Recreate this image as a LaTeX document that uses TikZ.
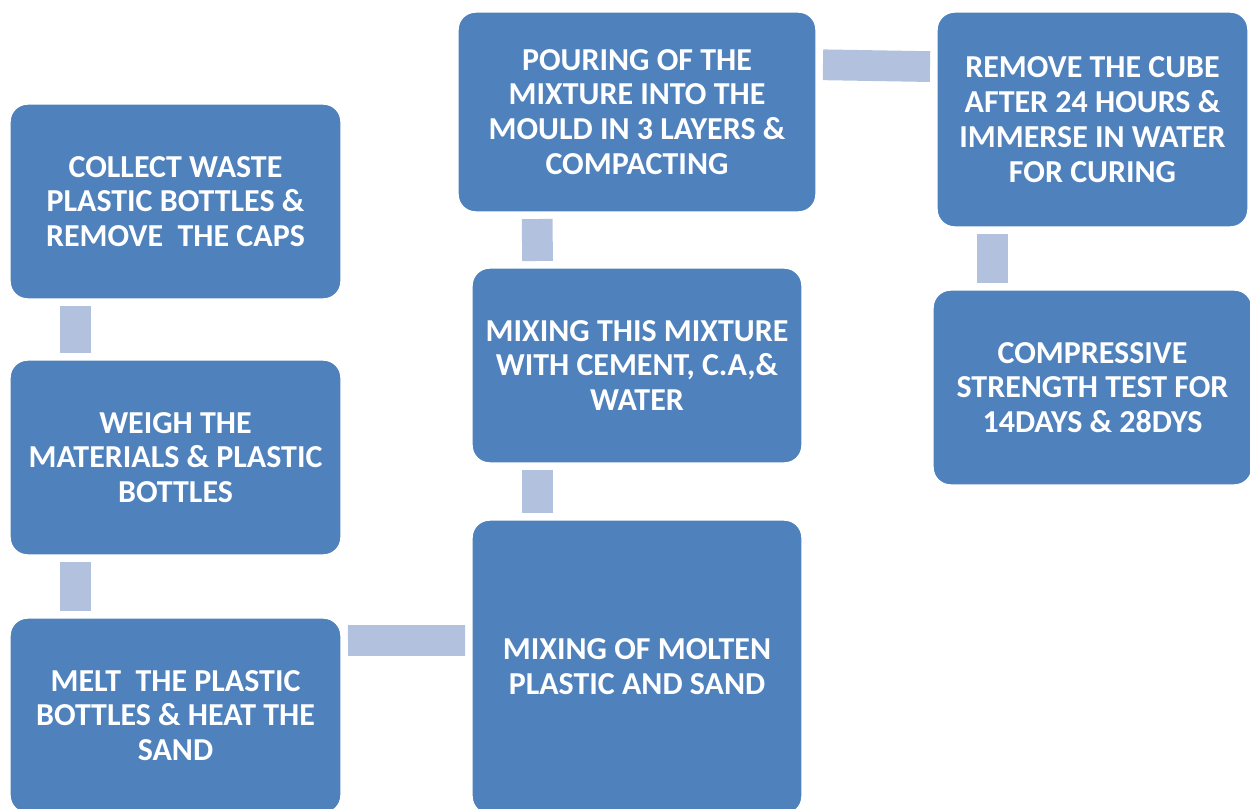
\documentclass[tikz,border=0pt]{standalone}
\usepackage{fontspec}
\setmainfont{Carlito}
\usetikzlibrary{calc}
\definecolor{boxblue}{HTML}{4F81BD}
\definecolor{linkblue}{HTML}{B2C1DE}
\tikzset{
  stepbox/.style={rectangle, rounded corners=10pt, fill=boxblue, draw=white, line width=0.8pt,
    text=white, font=\bfseries\fontsize{18.2}{19.8}\selectfont, align=center, inner sep=0pt},
  link/.style={draw=linkblue, line width=17.5pt, shorten <=3.6pt, shorten >=3.6pt}
}
\begin{document}
\begin{tikzpicture}[x=0.02cm,y=-0.02cm]
            \useasboundingbox (0,0) rectangle (1250,808);
            % left column
            \node[stepbox, minimum width=6.62cm, minimum height=3.9cm] (collect) at (175.5,201.5)
              {COLLECT WASTE\\PLASTIC BOTTLES \&\\REMOVE~ THE CAPS};
            \node[stepbox, minimum width=6.62cm, minimum height=3.9cm] (weigh) at (175.5,457.5)
              {WEIGH THE\\MATERIALS \& PLASTIC\\BOTTLES};
            \node[stepbox, minimum width=6.62cm, minimum height=3.9cm] (melt) at (175.5,715.5)
              {MELT~ THE PLASTIC\\BOTTLES \& HEAT THE\\SAND};
            % middle column
            \node[stepbox, minimum width=6.6cm, minimum height=5.88cm] (molten) at (637,667)
              {MIXING OF MOLTEN\\PLASTIC AND SAND};
            \node[stepbox, minimum width=6.6cm, minimum height=3.9cm] (cement) at (637,365.5)
              {MIXING THIS MIXTURE\\WITH CEMENT, C.A,\&\\WATER};
            \node[stepbox, minimum width=7.16cm, minimum height=4cm] (pour) at (637,112)
              {POURING OF THE\\MIXTURE INTO THE\\MOULD IN 3 LAYERS \&\\COMPACTING};
            % right column
            \node[stepbox, minimum width=6.22cm, minimum height=4.3cm] (cure) at (1092.5,119.5)
              {REMOVE THE CUBE\\AFTER 24 HOURS \&\\IMMERSE IN WATER\\FOR CURING};
            \node[stepbox, minimum width=6.38cm, minimum height=3.9cm] (test) at (1092.5,387.5)
              {COMPRESSIVE\\STRENGTH TEST FOR\\14DAYS \& 28DYS};
            % links
            \draw[link] ($(collect.south west)!0.2!(collect.south east)$) -- ($(weigh.north west)!0.2!(weigh.north east)$);
            \draw[link] ($(weigh.south west)!0.2!(weigh.south east)$) -- ($(melt.north west)!0.2!(melt.north east)$);
            \draw[link] ($(melt.north east)!0.118!(melt.south east)$) -- ($(molten.north west)!0.41!(molten.south west)$);
            \draw[link] ($(molten.north west)!0.2!(molten.north east)$) -- ($(cement.south west)!0.2!(cement.south east)$);
            \draw[link] ($(cement.north west)!0.2!(cement.north east)$) -- ($(pour.south west)!0.222!(pour.south east)$);
            \draw[link] ($(pour.north east)!0.265!(pour.south east)$) -- ($(cure.north west)!0.256!(cure.south west)$);
            \draw[link] ($(cure.south west)!0.18!(cure.south east)$) -- ($(test.north west)!0.188!(test.north east)$);
\end{tikzpicture}
\end{document}
